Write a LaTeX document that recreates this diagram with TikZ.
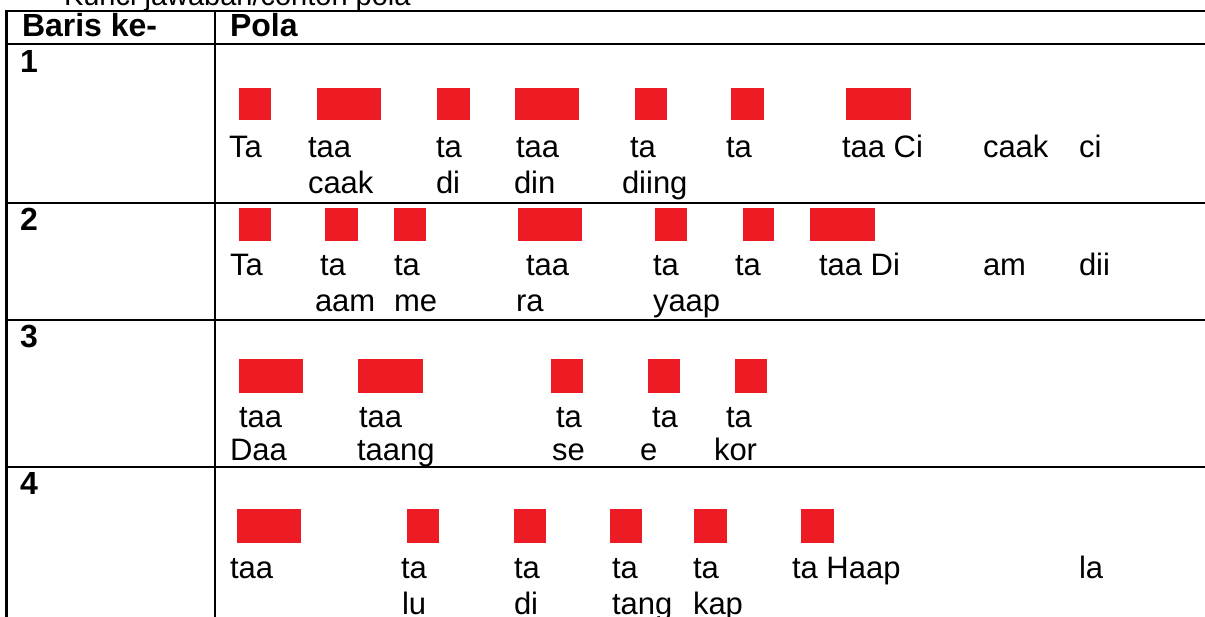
\documentclass[tikz,border=0pt]{standalone}
\usepackage{fontspec}
\setmainfont{Liberation Sans}
\definecolor{beatred}{RGB}{237,28,36}
\begin{document}
\begin{tikzpicture}[x=1pt,y=-1pt,
  lbl/.style={anchor=base west,inner sep=0pt,outer sep=0pt,font=\fontsize{31}{37}\selectfont},
  hdr/.style={lbl,font=\fontsize{32}{38}\selectfont\bfseries},
  ttl/.style={lbl,font=\fontsize{29}{35}\selectfont},
  grid/.style={line width=2.5pt,black},
  beat/.style={fill=beatred}]
\useasboundingbox (0,0) rectangle (1205,616);
\clip (0,0) rectangle (1205,616);
% title (cut off at top)
\node[ttl] (title) at (64,5.5) {Kunci jawaban/contoh pola};
% table rules
\foreach \y in {11,44,203,320,467} \draw[grid] (6.5,\y) -- (1206,\y);
\draw[grid] (6.5,10) -- (6.5,620);
\draw[grid] (215,10) -- (215,620);
% header
\node[hdr] (h1) at (22,36) {Baris ke-};
\node[hdr] (h2) at (230,36) {Pola};
% row numbers
\node[hdr] (n1) at (20,72) {1};
\node[hdr] (n2) at (20,230) {2};
\node[hdr] (n3) at (20,347) {3};
\node[hdr] (n4) at (20,494) {4};
% row 1 beats
\foreach \a/\b in {239/271,317/381,437/470,515/579,635/667,731/764,846/911}
  \fill[beat] (\a,88) rectangle (\b,120);
\foreach \x/\t [count=\i] in {229/Ta,308/taa,436/ta,516/taa,630/ta,726/ta,842/taa Ci,983/caak,1079/ci}
  \node[lbl] (ra\i) at (\x,157) {\t};
\foreach \x/\t [count=\i] in {308/caak,436/di,514/din,622/diing}
  \node[lbl] (rb\i) at (\x,193) {\t};
% row 2 beats
\foreach \a/\b in {239/271,325/358,394/426,518/582,655/687,743/774,810/875}
  \fill[beat] (\a,208) rectangle (\b,241);
\foreach \x/\t [count=\i] in {230/Ta,320/ta,394/ta,526/taa,653/ta,735/ta,819/taa Di,983/am,1079/dii}
  \node[lbl] (sa\i) at (\x,275) {\t};
\foreach \x/\t [count=\i] in {315/aam,394/me,516/ra,653/yaap}
  \node[lbl] (sb\i) at (\x,311) {\t};
% row 3 beats
\foreach \a/\b in {239/303,358/423,551/583,648/680,735/767}
  \fill[beat] (\a,359) rectangle (\b,393);
\foreach \x/\t [count=\i] in {239/taa,359/taa,556/ta,652/ta,726/ta}
  \node[lbl] (ta\i) at (\x,427) {\t};
\foreach \x/\t [count=\i] in {230/Daa,357/taang,552/se,640/e,714/kor}
  \node[lbl] (tb\i) at (\x,460) {\t};
% row 4 beats
\foreach \a/\b in {237/301,407/439,514/546,610/642,694/727,801/834}
  \fill[beat] (\a,509) rectangle (\b,543);
\foreach \x/\t [count=\i] in {230/taa,401/ta,514/ta,612/ta,693/ta,792/ta Haap,1079/la}
  \node[lbl] (ua\i) at (\x,578) {\t};
\foreach \x/\t [count=\i] in {402/lu,514/di,612/tang,693/kap}
  \node[lbl] (ub\i) at (\x,614) {\t};
\end{tikzpicture}
\end{document}
